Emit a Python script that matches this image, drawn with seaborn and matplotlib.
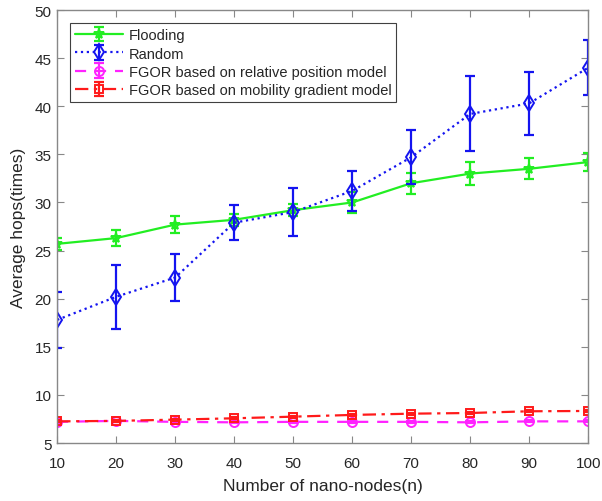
import matplotlib
matplotlib.use("Agg")
import matplotlib.pyplot as plt
from matplotlib.container import ErrorbarContainer
import numpy as np
import pandas as pd
import seaborn as sns

# Number of nano-nodes
nodes = [10, 20, 30, 40, 50, 60, 70, 80, 90, 100]

# Average hop counts and their error half-widths
flooding = [25.7, 26.3, 27.7, 28.2, 29.2, 30.0, 32.0, 33.0, 33.5, 34.2]
flooding_err = [0.6, 0.8, 0.9, 0.6, 0.6, 1.1, 1.1, 1.2, 1.1, 0.9]

random_walk = [17.8, 20.2, 22.2, 27.9, 29.0, 31.2, 34.7, 39.2, 40.3, 44.0]
random_err = [2.9, 3.3, 2.4, 1.8, 2.5, 2.1, 2.8, 3.9, 3.3, 2.85]

fgor_relative = [7.2, 7.3, 7.2, 7.15, 7.2, 7.2, 7.2, 7.15, 7.25, 7.25]
fgor_relative_err = [0.1, 0.1, 0.1, 0.1, 0.1, 0.1, 0.1, 0.1, 0.1, 0.1]

fgor_mobility = [7.25, 7.3, 7.43, 7.57, 7.74, 7.92, 8.05, 8.12, 8.3, 8.33]
fgor_mobility_err = [0.1, 0.1, 0.1, 0.1, 0.1, 0.1, 0.1, 0.1, 0.1, 0.1]

series_names = [
    "Flooding",
    "Random",
    "FGOR based on relative position model",
    "FGOR based on mobility gradient model",
]

sns.set_style("white")
plt.rcParams["font.family"] = ["Liberation Sans", "DejaVu Sans"]
plt.rcParams["font.size"] = 11

fig = plt.figure(figsize=(6.02, 5.02), dpi=100)
ax = fig.add_axes([0.095, 0.1155, 0.882, 0.8625])

styles = [
    dict(color="#22ee22", marker="*", ls="-", ms=7),
    dict(color="#1414f0", marker="d", ls=":", ms=8.5),
    dict(color="#ff22ff", marker="o", ls=(0, (5, 4)), ms=6.5),
    dict(color="#ff1a1a", marker="s", ls=(0, (6, 2.5, 1.5, 2.5)), ms=5.5),
]
values = [flooding, random_walk, fgor_relative, fgor_mobility]
errors = [flooding_err, random_err, fgor_relative_err, fgor_mobility_err]

handles = []
for name, vals, errs, st in zip(series_names, values, errors, styles):
    df = pd.DataFrame({"n": nodes, "hops": vals})
    sns.lineplot(data=df, x="n", y="hops", ax=ax, color=st["color"],
                 linestyle=st["ls"], linewidth=1.6, marker=st["marker"],
                 markersize=st["ms"], markerfacecolor="none",
                 markeredgecolor=st["color"], markeredgewidth=1.4,
                 legend=False)
    line = ax.lines[-1]
    eb = ax.errorbar(nodes, vals, yerr=errs, fmt="none", ecolor=st["color"],
                     elinewidth=1.6, capsize=3.6, capthick=1.6)
    handles.append(ErrorbarContainer((line, eb.lines[1], eb.lines[2]),
                                     has_yerr=True, label=name))

ax.set_xlim(10, 100)
ax.set_ylim(5, 50)
ax.set_xticks(nodes)
ax.set_yticks(np.arange(5, 51, 5))
ax.set_xlabel("Number of nano-nodes(n)", fontsize=12.5, color="#262626",
              labelpad=6)
ax.set_ylabel("Average hops(times)", fontsize=12.5, color="#262626",
              labelpad=6)

for sp in ax.spines.values():
    sp.set_visible(True)
    sp.set_color("#888888")
    sp.set_linewidth(1.0)
ax.tick_params(direction="in", length=5, width=0.8, color="#888888",
               labelcolor="#262626", labelsize=11, top=True, right=True,
               bottom=True, left=True, pad=4)
ax.tick_params(axis="x", pad=9)

leg = ax.legend(handles=handles, labels=series_names, loc="upper left",
                bbox_to_anchor=(0.0245, 0.97), fontsize=10.5, frameon=True,
                fancybox=False, framealpha=1, edgecolor="#404040",
                handlelength=3.3, handletextpad=0.35, labelspacing=0.3,
                borderpad=0.35, borderaxespad=0.0)
leg.get_frame().set_linewidth(0.8)

fig.savefig("out.png", dpi=100)
